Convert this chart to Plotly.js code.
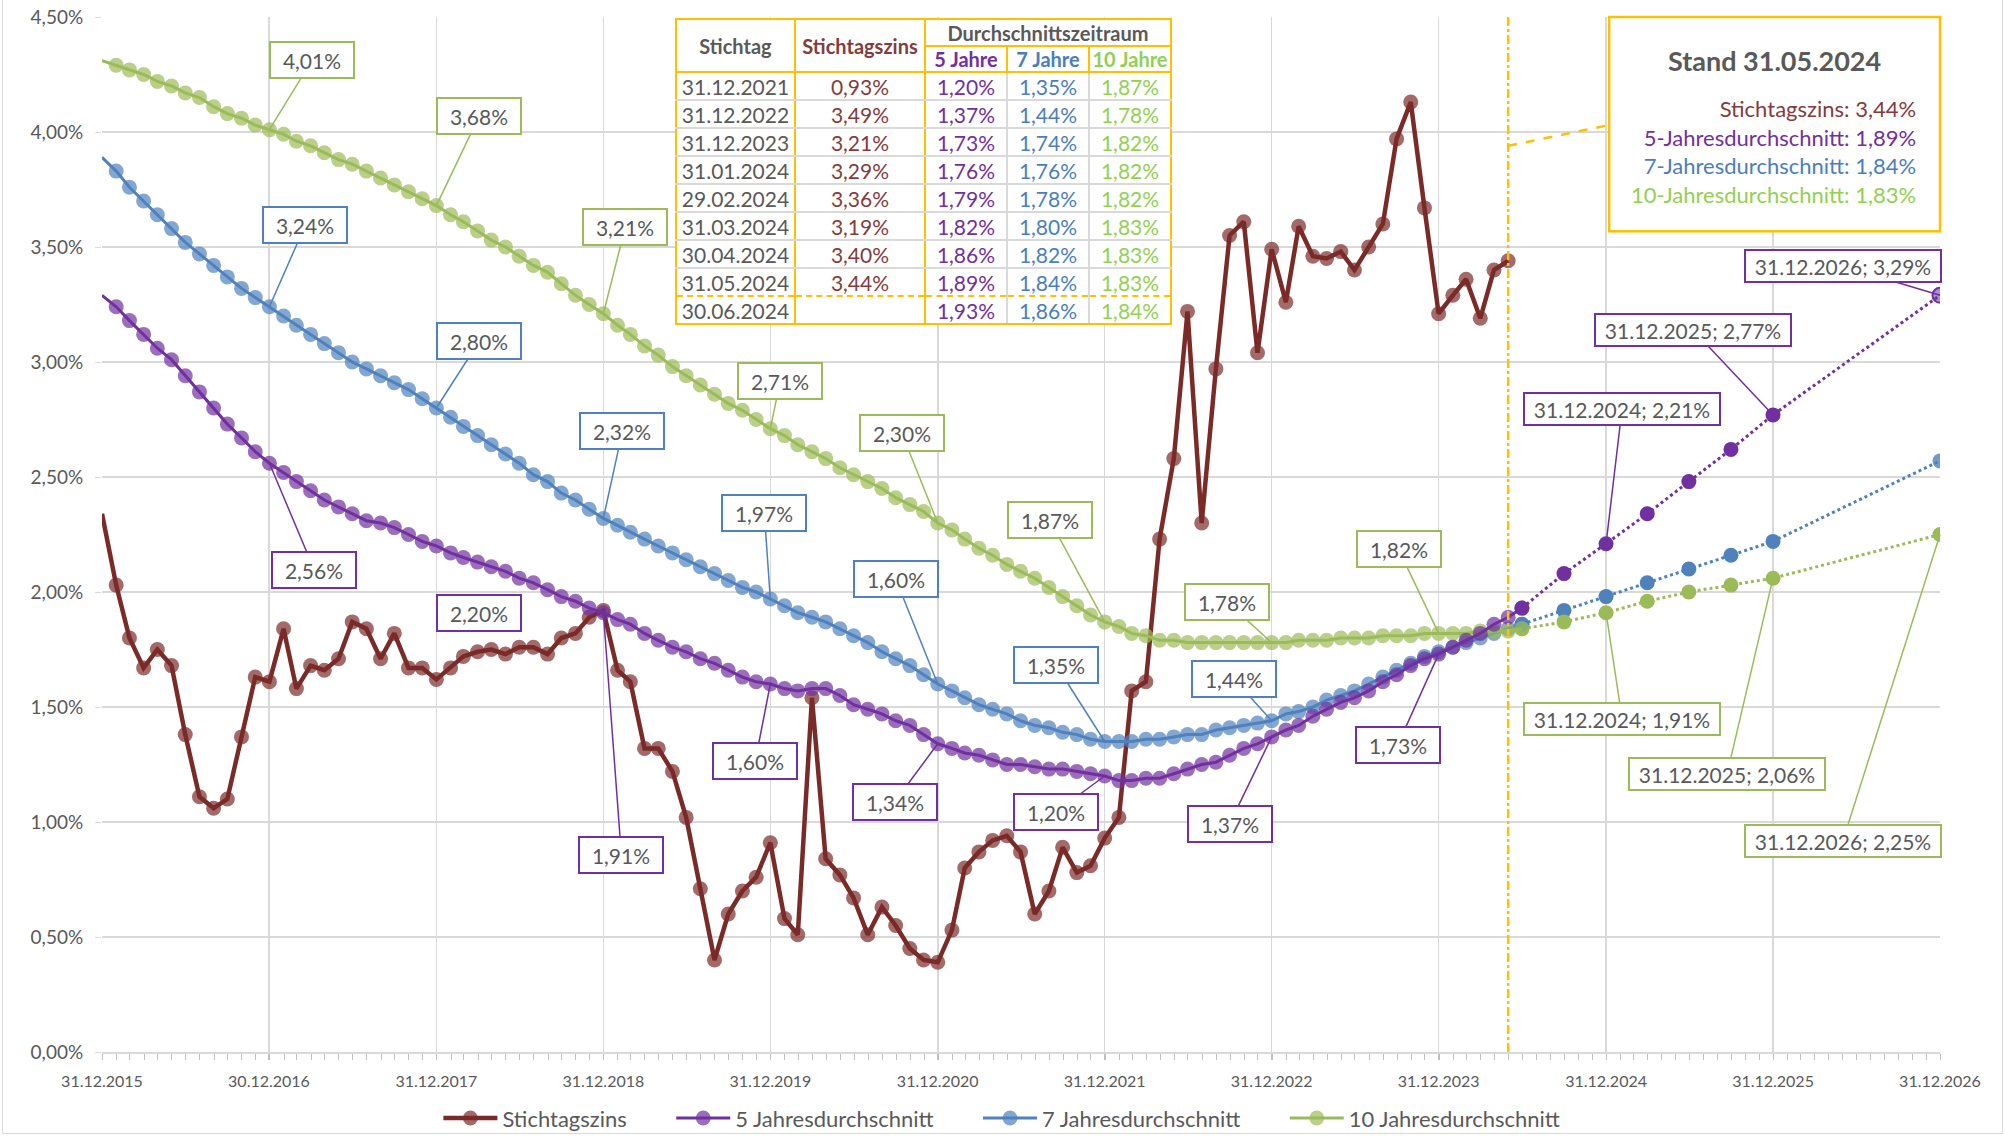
<!DOCTYPE html>
<html>
<head>
<meta charset="utf-8">
<script src="https://cdn.plot.ly/plotly-3.0.1.min.js"></script>
<style>
html,body{margin:0;padding:0;background:#fff;}
#wrap{position:relative;width:2005px;height:1136px;overflow:hidden;background:#fff;}
#chart{position:absolute;left:0;top:0;width:2005px;height:1136px;}
#frame{position:absolute;left:2px;top:-2px;width:1999px;height:1134px;border:1px solid #d9d9d9;pointer-events:none;}
#tbl{position:absolute;left:675px;top:18px;width:495px;border-collapse:collapse;background:#fff;font-family:Lato,"Open Sans",sans-serif;font-size:21px;table-layout:fixed;}
#tbl td,#tbl th{padding:0;text-align:center;white-space:nowrap;overflow:hidden;}
#tbl th{font-weight:bold;font-size:20px;border:2px solid #FFC000;}
#tbl tr.h1 th{height:25px;}
#tbl tr.h2 th{height:24px;}
#tbl td{height:26px;border-top:2px solid #d9d9d9;border-bottom:2px solid #d9d9d9;border-left:2px solid #d9d9d9;border-right:2px solid #d9d9d9;}
#tbl td.c1{border-left:2px solid #FFC000;border-right:2px solid #FFC000;color:#595959;}
#tbl td.c2{border-right:2px solid #FFC000;}
#tbl td.c5{border-right:2px solid #FFC000;}
#tbl tr.first td{border-top:2px solid #FFC000;}
#tbl tr.pre td{border-bottom:2px dashed #FFC000;}
#tbl tr.last td{border-top:2px dashed #FFC000;border-bottom:2px solid #FFC000;}
</style>
</head>
<body>
<div id="wrap">
  <div id="chart"></div>
  <table id="tbl"></table>
  <div id="frame"></div>
</div>
<script>
// ---------------- DATA ----------------
// monthly series start at 31.12.2015
const startYear = 2015, startMonth = 12;

const stichtagszins = [
  2.34,
  2.03,1.80,1.67,1.75,1.68,1.38,1.11,1.06,1.10,1.37,1.63,1.61,
  1.84,1.58,1.68,1.66,1.71,1.87,1.84,1.71,1.82,1.67,1.67,1.62,
  1.67,1.72,1.74,1.75,1.73,1.76,1.76,1.73,1.80,1.82,1.89,1.92,
  1.66,1.61,1.32,1.32,1.22,1.02,0.71,0.40,0.60,0.70,0.76,0.91,
  0.58,0.51,1.54,0.84,0.77,0.67,0.51,0.63,0.55,0.45,0.40,0.39,
  0.53,0.80,0.87,0.92,0.94,0.87,0.60,0.70,0.89,0.78,0.81,0.93,
  1.02,1.57,1.61,2.23,2.58,3.22,2.30,2.97,3.55,3.61,3.04,3.49,
  3.26,3.59,3.46,3.45,3.48,3.40,3.50,3.60,3.97,4.13,3.67,3.21,
  3.29,3.36,3.19,3.40,3.44
];

const avg5 = [
  3.29,
  3.24,3.18,3.12,3.06,3.01,2.94,2.87,2.80,2.73,2.67,2.61,2.56,
  2.52,2.48,2.44,2.40,2.37,2.34,2.31,2.30,2.28,2.25,2.22,2.20,
  2.17,2.15,2.13,2.11,2.09,2.06,2.04,2.01,1.98,1.96,1.93,1.91,
  1.88,1.86,1.82,1.79,1.76,1.74,1.71,1.69,1.66,1.63,1.61,1.60,
  1.58,1.57,1.58,1.58,1.55,1.51,1.49,1.47,1.44,1.42,1.38,1.34,
  1.32,1.30,1.29,1.27,1.25,1.25,1.24,1.23,1.23,1.22,1.21,1.20,
  1.18,1.18,1.19,1.19,1.21,1.23,1.25,1.26,1.29,1.32,1.34,1.37,
  1.40,1.42,1.46,1.49,1.52,1.54,1.57,1.61,1.64,1.68,1.71,1.73,
  1.76,1.79,1.82,1.86,1.89,1.93
];

const avg7 = [
  3.89,
  3.83,3.76,3.70,3.64,3.58,3.52,3.47,3.42,3.37,3.32,3.28,3.24,
  3.20,3.16,3.12,3.08,3.04,3.00,2.97,2.94,2.91,2.88,2.84,2.80,
  2.76,2.72,2.68,2.64,2.60,2.56,2.51,2.48,2.43,2.40,2.36,2.32,
  2.29,2.26,2.23,2.20,2.17,2.14,2.11,2.08,2.05,2.02,2.00,1.97,
  1.94,1.91,1.89,1.87,1.84,1.81,1.78,1.74,1.71,1.68,1.64,1.60,
  1.57,1.54,1.51,1.49,1.47,1.44,1.42,1.41,1.39,1.38,1.36,1.35,
  1.35,1.35,1.36,1.36,1.37,1.38,1.38,1.40,1.41,1.42,1.43,1.44,
  1.47,1.48,1.50,1.53,1.55,1.57,1.60,1.63,1.66,1.69,1.72,1.74,
  1.76,1.78,1.80,1.82,1.84,1.86
];

const avg10 = [
  4.31,
  4.29,4.27,4.25,4.22,4.20,4.17,4.15,4.11,4.08,4.06,4.03,4.01,
  3.99,3.96,3.94,3.91,3.88,3.86,3.83,3.80,3.77,3.74,3.71,3.68,
  3.64,3.61,3.57,3.53,3.50,3.46,3.42,3.39,3.34,3.29,3.25,3.21,
  3.16,3.12,3.07,3.03,2.98,2.94,2.90,2.86,2.82,2.79,2.75,2.71,
  2.68,2.64,2.61,2.58,2.54,2.51,2.48,2.45,2.41,2.38,2.35,2.30,
  2.27,2.23,2.19,2.16,2.12,2.09,2.06,2.02,1.98,1.94,1.90,1.87,
  1.85,1.82,1.81,1.79,1.79,1.78,1.78,1.78,1.78,1.78,1.78,1.78,
  1.78,1.79,1.79,1.79,1.80,1.80,1.80,1.81,1.81,1.81,1.82,1.82,
  1.82,1.82,1.83,1.83,1.83,1.84
];

// projections (dotted)
const projDates = ['2024-06-30','2024-09-30','2024-12-31','2025-03-31','2025-06-30','2025-09-30','2025-12-31','2026-12-31'];
const proj5  = [1.93,2.08,2.21,2.34,2.48,2.62,2.77,3.29];
const proj7  = [1.86,1.92,1.98,2.04,2.10,2.16,2.22,2.57];
const proj10 = [1.84,1.87,1.91,1.96,2.00,2.03,2.06,2.25];

// x-axis tick labels
const yearTicks = ['2015-12-31','2016-12-30','2017-12-31','2018-12-31','2019-12-31','2020-12-31',
                   '2021-12-31','2022-12-31','2023-12-31','2024-12-31','2025-12-31','2026-12-31'];

// table
const tableDates = ['31.12.2021','31.12.2022','31.12.2023','31.01.2024','29.02.2024','31.03.2024','30.04.2024','31.05.2024','30.06.2024'];
const tableZins  = [0.93,3.49,3.21,3.29,3.36,3.19,3.40,3.44,null];
const table5     = [1.20,1.37,1.73,1.76,1.79,1.82,1.86,1.89,1.93];
const table7     = [1.35,1.44,1.74,1.76,1.78,1.80,1.82,1.84,1.86];
const table10    = [1.87,1.78,1.82,1.82,1.82,1.83,1.83,1.83,1.84];

const standDate = '2024-05-31';
const seriesNames = ['Stichtagszins','5 Jahresdurchschnitt','7 Jahresdurchschnitt','10 Jahresdurchschnitt'];

// ---------------- HELPERS ----------------
function monthEnd(y, m){
  const d = new Date(Date.UTC(y, m, 0)).getUTCDate();
  return y + '-' + String(m).padStart(2,'0') + '-' + String(d).padStart(2,'0');
}
const months = [];
(function(){ let y = startYear, m = startMonth;
  for (let i = 0; i < avg5.length; i++){ months.push(monthEnd(y,m)); m++; if (m > 12){ m = 1; y++; } } })();

const fmt = v => v.toFixed(2).replace('.', ',') + '%';
const deDate = s => s.slice(8,10) + '.' + s.slice(5,7) + '.' + s.slice(0,4);
const PAD = '\u00a0'.repeat(7);   // spacing between legend entries

const C = {
  zins:'#7A2B28', p5:'#7030A0', p7:'#4F81BD', p10:'#9BBB59',
  t5:'#7030A0', t7:'#4A7EBB', t10:'#92D050', tz:'#843B3B',
  orange:'#FFC000', grid:'#D9D9D9', text:'#595959'
};
const FONT = 'Lato, "Open Sans", sans-serif';

// ---------------- TRACES ----------------
const MS = 15;
function solid(name, x, y, color, rank, lw){
  const sizes = y.map((v,i) => i === 0 ? 0 : MS);
  return {type:'scatter', mode:'lines+markers', name, x, y,
    line:{color, width:lw}, marker:{color, size:sizes, line:{width:0}}, legendrank:rank, hoverinfo:'x+y'};
}
function dotted(x, y, color, lastColor, lastLine){
  const cols = y.map((v,i) => i === y.length-1 ? lastColor : color);
  const lw = y.map((v,i) => i === y.length-1 ? lastLine : 0);
  return {type:'scatter', mode:'lines+markers', x, y, showlegend:false,
    line:{color, width:3, dash:'dot'}, marker:{color:cols, size:MS, line:{color, width:lw}}, hoverinfo:'x+y'};
}
const traces = [
  solid(seriesNames[0] + PAD, months.slice(0, stichtagszins.length), stichtagszins, C.zins, 1, 4.5),
  dotted(projDates, proj7, C.p7, 'rgba(79,129,189,0.8)', 0),
  dotted(projDates, proj10, C.p10, C.p10, 0),
  dotted(projDates, proj5, C.p5, 'rgba(112,48,160,0.55)', 2),
  solid(seriesNames[2] + PAD, months, avg7, C.p7, 3, 3),
  solid(seriesNames[3], months, avg10, C.p10, 4, 3),
  solid(seriesNames[1] + PAD, months, avg5, C.p5, 2, 3)
];

// ---------------- CALLOUTS ----------------
const seriesMap = {
  g:{solid:avg10, proj:proj10, color:C.p10},
  b:{solid:avg7,  proj:proj7,  color:C.p7},
  p:{solid:avg5,  proj:proj5,  color:C.p5}
};
// [series, year, ax, ay]  (offsets in px)
const callouts = [
  ['g',2016,43,-70],['g',2017,43,-90],['g',2018,22,-87],['g',2019,10,-48],['g',2020,-36,-90],
  ['g',2021,-55,-102],['g',2022,-45,-41],['g',2023,-40,-84],
  ['g',2024,16,106],['g',2025,-46,196],['g',2026,-97,306],
  ['b',2016,36,-82],['b',2017,43,-67],['b',2018,19,-87],['b',2019,-6,-86],['b',2020,-42,-105],
  ['b',2021,-49,-77],['b',2022,-38,-42],
  ['p',2016,45,107],['p',2017,43,67],['p',2018,18,242],['p',2019,-15,77],['p',2020,-43,58],
  ['p',2021,-49,36],['p',2022,-42,87],['p',2023,-41,91],
  ['p',2024,16,-135],['p',2025,-80,-85],['p',2026,-97,-29]
];
const annotations = callouts.map(([k, yr, ax, ay]) => {
  const s = seriesMap[k];
  let x, y, text, long = yr >= 2024;
  if (!long){
    const idx = (yr - startYear) * 12;
    x = months[idx]; y = s.solid[idx]; text = fmt(y);
  } else {
    const d = yr + '-12-31';
    const idx = projDates.indexOf(d);
    x = d; y = s.proj[idx]; text = deDate(d) + '; ' + fmt(y);
  }
  return {x, y, xref:'x', yref:'y', text, showarrow:true, arrowhead:0, arrowwidth:1.5,
    arrowcolor:s.color, ax, ay, standoff:0, bordercolor:s.color, borderwidth:2, borderpad:2,
    bgcolor:'#ffffff', width: long ? 190 : 78, height: long ? 26 : 30,
    font:{family:FONT, size:21, color:C.text}};
});

// Stand box
const last = a => a[a.length-1];
const zinsNow = last(stichtagszins);
const idxStand = months.indexOf(standDate);
annotations.push({xref:'paper', yref:'paper', x:0.910, y:0.958, xanchor:'center', yanchor:'middle',
  showarrow:false, text:'<b>Stand ' + deDate(standDate) + '</b>', font:{family:FONT, size:27, color:C.text}});
annotations.push({xref:'paper', yref:'paper', x:0.988, y:0.8696, xanchor:'right', yanchor:'middle',
  showarrow:false, align:'right', font:{family:FONT, size:22, color:C.text},
  text:'<span style="color:'+C.tz+'">Stichtagszins: '+fmt(zinsNow)+'</span><br>'+
       '<span style="color:'+C.t5+'">5-Jahresdurchschnitt: '+fmt(avg5[idxStand])+'</span><br>'+
       '<span style="color:'+C.t7+'">7-Jahresdurchschnitt: '+fmt(avg7[idxStand])+'</span><br>'+
       '<span style="color:'+C.t10+'">10-Jahresdurchschnitt: '+fmt(avg10[idxStand])+'</span>'});

const xr = ['2015-12-31','2026-12-31'];
const t0 = Date.parse(xr[0]), t1 = Date.parse(xr[1]);
const boxLeftFrac = 0.820;
const boxLeftDate = new Date(t0 + boxLeftFrac*(t1-t0)).toISOString().slice(0,10);

const shapes = [
  {type:'line', xref:'x', yref:'paper', x0:standDate, x1:standDate, y0:0, y1:1,
   line:{color:C.orange, width:2.5, dash:'dashdot'}},
  {type:'line', xref:'x', yref:'y', x0:standDate, y0:3.94, x1:boxLeftDate, y1:4.03,
   line:{color:C.orange, width:2.5, dash:'dash'}},
  {type:'rect', xref:'paper', yref:'paper', x0:boxLeftFrac, x1:1, y0:0.793, y1:1,
   line:{color:C.orange, width:2.5}, fillcolor:'#ffffff', layer:'above'}
];

const layout = {
  width:2005, height:1136,
  margin:{l:102, r:65, t:17, b:84, autoexpand:false},
  paper_bgcolor:'#ffffff', plot_bgcolor:'#ffffff',
  separators:',.',
  font:{family:FONT, color:C.text},
  showlegend:true,
  legend:{orientation:'h', x:0.4896, xanchor:'center', y:-0.064, yanchor:'middle',
    font:{family:FONT, size:22, color:C.text}, itemwidth:54, bgcolor:'rgba(0,0,0,0)'},
  xaxis:{type:'date', range:xr, tickvals:yearTicks, ticktext:yearTicks.map(deDate),
    showgrid:true, gridcolor:C.grid, gridwidth:1.5, zeroline:false,
    showline:true, linecolor:C.grid, linewidth:1.5,
    ticks:'outside', ticklen:6, tickcolor:'#bfbfbf', ticklabelstandoff:8,
    tickfont:{family:FONT, size:16, color:C.text},
    minor:{ticks:'outside', ticklen:6, tickcolor:'#bfbfbf', dtick:'M1', tick0:'2016-01-01', showgrid:false},
    fixedrange:true},
  yaxis:{range:[0,4.5], tick0:0, dtick:0.5, tickformat:'.2f', ticksuffix:'%',
    showgrid:true, gridcolor:C.grid, gridwidth:1.5, zeroline:false,
    ticks:'outside', ticklen:6, tickcolor:C.grid, ticklabelstandoff:8,
    tickfont:{family:FONT, size:19, color:C.text}, fixedrange:true},
  shapes, annotations
};

Plotly.newPlot('chart', traces, layout, {displayModeBar:false, staticPlot:true});

// ---------------- TABLE ----------------
(function(){
  const tbl = document.getElementById('tbl');
  let h = '<colgroup><col style="width:119px"><col style="width:130px"><col style="width:82px"><col style="width:82px"><col style="width:82px"></colgroup>';
  h += '<tr class="h1"><th rowspan="2" style="color:'+C.text+'">Stichtag</th>'+
       '<th rowspan="2" style="color:'+C.tz+'">Stichtagszins</th>'+
       '<th colspan="3" style="color:'+C.text+'">Durchschnittszeitraum</th></tr>';
  h += '<tr class="h2"><th style="color:'+C.t5+'">5 Jahre</th><th style="color:'+C.t7+'">7 Jahre</th><th style="color:'+C.t10+'">10 Jahre</th></tr>';
  tableDates.forEach((d,i) => {
    let cls = i === 0 ? 'first' : '';
    if (i === tableDates.length-2) cls += ' pre';
    if (i === tableDates.length-1) cls += ' last';
    h += '<tr class="'+cls.trim()+'">'+
      '<td class="c1">'+d+'</td>'+
      '<td class="c2" style="color:'+C.tz+'">'+(tableZins[i]==null?'':fmt(tableZins[i]))+'</td>'+
      '<td style="color:'+C.t5+'">'+fmt(table5[i])+'</td>'+
      '<td style="color:'+C.t7+'">'+fmt(table7[i])+'</td>'+
      '<td class="c5" style="color:'+C.t10+'">'+fmt(table10[i])+'</td></tr>';
  });
  tbl.innerHTML = h;
})();
</script>
</body>
</html>
